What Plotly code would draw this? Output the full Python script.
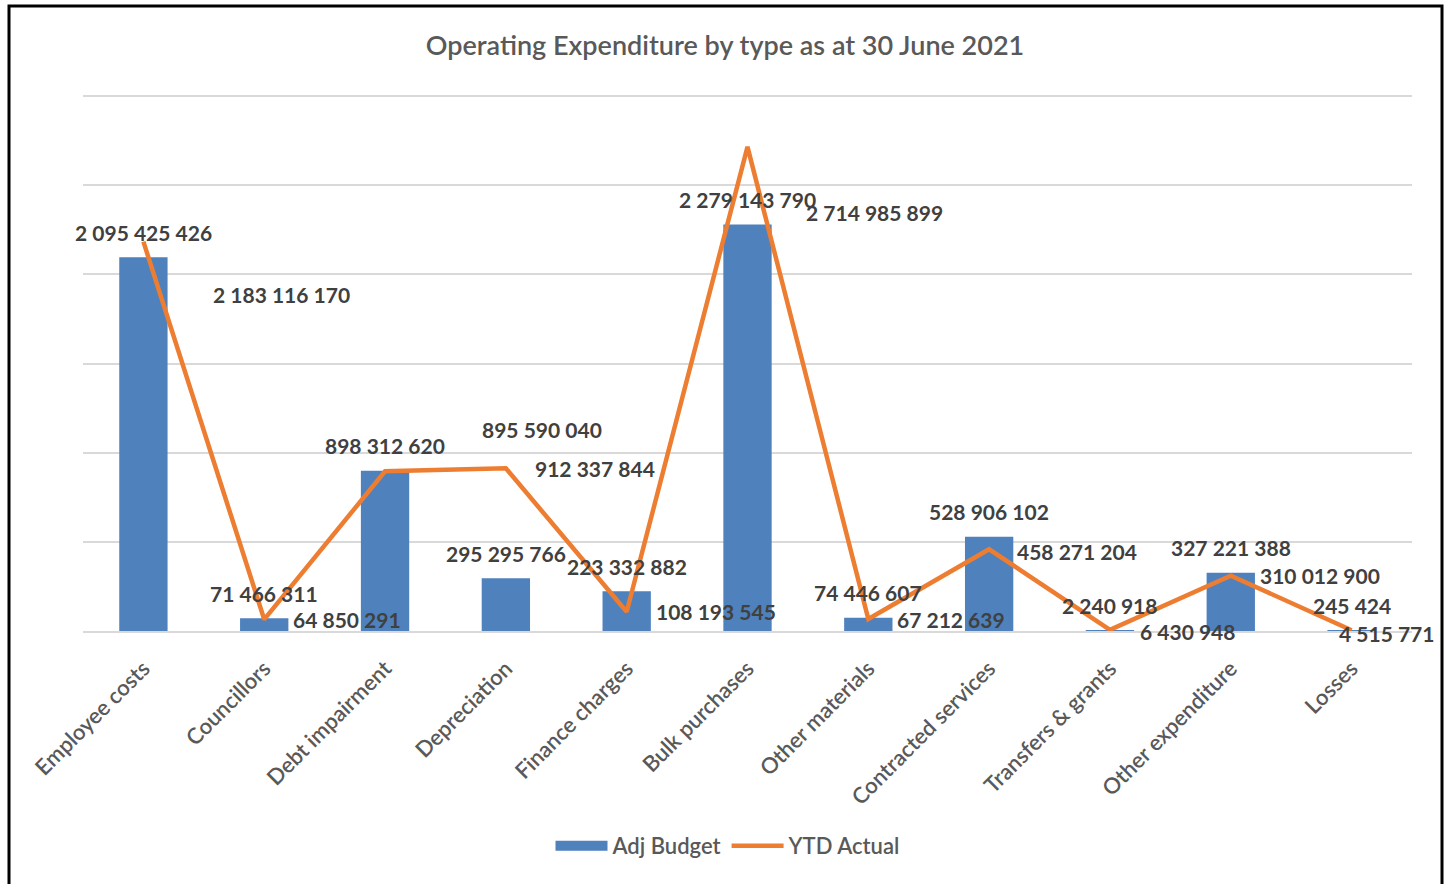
import plotly.graph_objects as go

categories = ["Employee costs", "Councillors", "Debt impairment", "Depreciation",
              "Finance charges", "Bulk purchases", "Other materials",
              "Contracted services", "Transfers & grants", "Other expenditure", "Losses"]
adj_budget = [2095425426, 71466311, 898312620, 295295766, 223332882, 2279143790,
              74446607, 528906102, 2240918, 327221388, 245424]
ytd_actual = [2183116170, 64850291, 895590040, 912337844, 108193545, 2714985899,
              67212639, 458271204, 6430948, 310012900, 4515771]

def fmt(v):
    return f"{v:,}".replace(",", " ")

BLUE = "#4F81BD"
ORANGE = "#ED7D31"
FONT = "Lato"
LABEL_COLOR = "#404040"
TEXT_GRAY = "#595959"

# label offsets (pixels) for the YTD Actual labels, mimicking the original placement
line_dx = [68, 27, 95, 27, 27, 56, 27, 26, 28, 27, -15]
line_dy = [-53, 0, 42, 0, 0, -66, 0, -2, -2, 0, -3]

fig = go.Figure()
fig.add_trace(go.Bar(x=categories, y=adj_budget, name="Adj Budget", showlegend=False,
                     marker=dict(color=BLUE, line=dict(width=0)), width=0.4))
fig.add_trace(go.Scatter(x=categories, y=ytd_actual, name="YTD Actual", mode="lines",
                         showlegend=False, line=dict(color=ORANGE, width=4.5)))
# legend-only entries (wide swatches as in the original)
fig.add_trace(go.Scatter(x=[None], y=[None], name="Adj Budget", mode="lines",
                         line=dict(color=BLUE, width=12)))
fig.add_trace(go.Scatter(x=[None], y=[None], name="YTD Actual", mode="lines",
                         line=dict(color=ORANGE, width=4.5)))

for c, v in zip(categories, adj_budget):
    fig.add_annotation(x=c, y=v, text=fmt(v), showarrow=False, yshift=25,
                       xanchor="center", yanchor="middle",
                       font=dict(family=FONT, size=21, color=LABEL_COLOR, weight="bold"))
for c, v, dx, dy in zip(categories, ytd_actual, line_dx, line_dy):
    fig.add_annotation(x=c, y=v, text=fmt(v), showarrow=False, xshift=dx, yshift=dy,
                       xanchor="left", yanchor="middle",
                       font=dict(family=FONT, size=21, color=LABEL_COLOR, weight="bold"))

W, H = 1446, 884
L, R, T, B = 83, 34, 90, 253
pw, ph = W - L - R, H - T - B
# 3 000 000 000 gridline sits at y=96 px, zero at y=631 px
y_max = 3000000000 * ph / (H - B - 96)

def px_x(x):
    return (x - L) / pw

def px_y(y):
    return (H - B - y) / ph

fig.add_shape(type="rect", xref="paper", yref="paper",
              x0=px_x(9), x1=px_x(1442), y0=px_y(892), y1=px_y(6),
              line=dict(color="black", width=3), fillcolor="rgba(0,0,0,0)")

fig.update_layout(
    width=W, height=H,
    margin=dict(l=L, r=R, t=T, b=B),
    paper_bgcolor="white", plot_bgcolor="white",
    title=dict(text="Operating Expenditure by type as at 30 June 2021",
               x=px_x(725), xref="paper", xanchor="center", y=1 - 46 / H, yanchor="middle",
               font=dict(family=FONT, size=27, color=TEXT_GRAY, weight=600)),
    font=dict(family=FONT, color=TEXT_GRAY),
    showlegend=True,
    legend=dict(orientation="h", x=px_x(728), xanchor="center", xref="paper",
                y=px_y(846), yanchor="middle",
                font=dict(family=FONT, size=22, color=TEXT_GRAY, weight=600),
                itemwidth=52, traceorder="normal"),
    bargap=0.6,
    xaxis=dict(range=[-0.5, len(categories) - 0.5], tickangle=-45,
               tickfont=dict(family=FONT, size=22, color=TEXT_GRAY, weight=600),
               ticklabelstandoff=14,
               showline=True, linecolor="#D9D9D9", linewidth=2, ticks="",
               showgrid=False),
    yaxis=dict(range=[0, y_max], tick0=0, dtick=500000000, showticklabels=False,
               showgrid=True, gridcolor="#D9D9D9", gridwidth=2, zeroline=False,
               showline=False, ticks=""),
)

fig.write_html("out.html", post_script="document.body.style.margin='0';",
               config={"displayModeBar": False})
